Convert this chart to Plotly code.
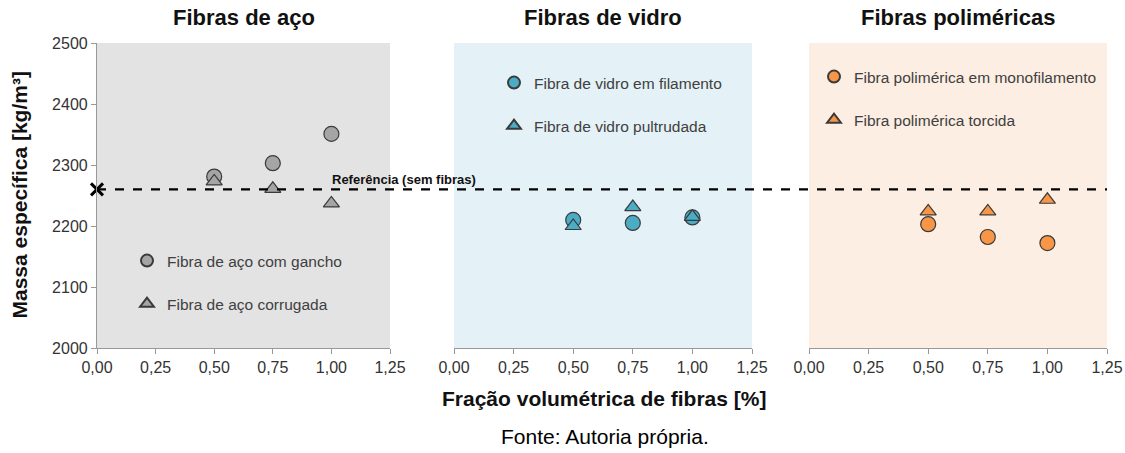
import plotly.graph_objects as go

# Frações volumétricas (%)
fracao = [0.50, 0.75, 1.00]

# Massa específica [kg/m³]
aco_gancho = [2281, 2303, 2351]
aco_corrugada = [2273, 2261, 2237]
vidro_filamento = [2210, 2205, 2214]
vidro_pultrudada = [2200, 2231, 2215]
poli_monofilamento = [2203, 2182, 2172]
poli_torcida = [2224, 2224, 2243]

referencia = 2260
ref_fracao = 0.0

titulos = ["Fibras de aço", "Fibras de vidro", "Fibras poliméricas"]
nomes = [
    ("Fibra de aço com gancho", "Fibra de aço corrugada"),
    ("Fibra de vidro em filamento", "Fibra de vidro pultrudada"),
    ("Fibra polimérica em monofilamento", "Fibra polimérica torcida"),
]
series = [
    (aco_gancho, aco_corrugada),
    (vidro_filamento, vidro_pultrudada),
    (poli_monofilamento, poli_torcida),
]
x_ticks = [0, 0.25, 0.5, 0.75, 1.0, 1.25]
y_ticks = [2000, 2100, 2200, 2300, 2400, 2500]

cores = ["#a5a5a5", "#4bacc6", "#f79646"]
fundos = ["#e3e3e3", "#e4f1f6", "#fdeee3"]
contorno = "#3a3a3a"
FONT = "Arial, Liberation Sans, sans-serif"

W, H = 1125, 453
T, B = 43, 105
PH = H - T - B
dominios = [(97 / W, 390 / W), (454 / W, 752 / W), (809 / W, 1107 / W)]

fig = go.Figure()

# posição das legendas (px da tela: x esquerdo, y topo)
leg_pos = [(127, 244), (494, 66), (814, 60)]

for i in range(3):
    xa = "x" if i == 0 else f"x{i+1}"
    ya = "y" if i == 0 else f"y{i+1}"
    leg = "legend" if i == 0 else f"legend{i+1}"
    circ, tri = series[i]
    n_circ, n_tri = nomes[i]
    fig.add_trace(go.Scatter(
        x=fracao, y=circ, mode="markers", name=n_circ,
        xaxis=xa, yaxis=ya, legend=leg, legendgroup=f"c{i}",
        marker=dict(symbol="circle", size=15, color=cores[i],
                    line=dict(color=contorno, width=1.2)),
        cliponaxis=False,
    ))
    fig.add_trace(go.Scatter(
        x=fracao, y=tri, mode="markers", name=n_tri,
        xaxis=xa, yaxis=ya, legend=leg, legendgroup=f"t{i}",
        marker=dict(symbol="triangle-up", size=14, color=cores[i],
                    line=dict(color=contorno, width=1.2)),
        cliponaxis=False,
    ))

    # fundo do painel
    fig.add_shape(type="rect", xref=f"{xa} domain", yref=f"{ya} domain",
                  x0=0, x1=1, y0=0, y1=1, fillcolor=fundos[i],
                  line=dict(width=0), layer="below")

    # título do painel
    fig.add_annotation(text=f"<b>{titulos[i]}</b>", xref=f"{xa} domain", x=0.5,
                       yref="paper", y=(H - B - 18) / PH,
                       yanchor="middle", showarrow=False,
                       font=dict(size=22, color="#111111", family=FONT))

    lx, ly = leg_pos[i]
    fig.update_layout({leg: dict(
        x=lx / W, y=(H - B - ly) / PH, xanchor="left", yanchor="top",
        bgcolor="rgba(0,0,0,0)", borderwidth=0,
        font=dict(size=15.5, color="#404040", family=FONT),
        itemsizing="constant", itemwidth=30,
        traceorder="grouped", tracegroupgap=20,
    )})

    fig.update_layout({
        f"xaxis{'' if i == 0 else i+1}": dict(
            domain=list(dominios[i]), range=[0, 1.25], anchor=ya,
            tickvals=x_ticks, tickformat=".2f",
            showline=True, linecolor="#999999", linewidth=1.2,
            ticks="outside", ticklen=5, tickcolor="#999999",
            showgrid=False, zeroline=False, automargin=False,
            tickfont=dict(size=16, color="#333333", family=FONT),
        ),
        f"yaxis{'' if i == 0 else i+1}": dict(
            domain=[0, 1], range=[2000, 2500], anchor=xa,
            tickvals=y_ticks,
            showline=(i == 0), linecolor="#999999", linewidth=1.2,
            ticks="outside" if i == 0 else "", ticklen=5, tickcolor="#999999",
            showticklabels=(i == 0),
            showgrid=False, zeroline=False, automargin=False,
            tickfont=dict(size=16, color="#333333", family=FONT),
        ),
    })

# linha de referência (sem fibras)
fig.add_shape(type="line", xref="paper", yref="y",
              x0=dominios[0][0], x1=dominios[2][1], y0=referencia, y1=referencia,
              line=dict(color="black", width=2.2, dash="dash"))
fig.add_trace(go.Scatter(
    x=[ref_fracao], y=[referencia], mode="markers", showlegend=False,
    marker=dict(symbol="x-thin", size=12, line=dict(color="black", width=3)),
    cliponaxis=False,
))
fig.add_annotation(text="<b>Referência (sem fibras)</b>", xref="paper", x=404 / W,
                   yref="y", y=referencia, yshift=10, showarrow=False,
                   font=dict(size=13, color="#111111", family=FONT))

# rótulos dos eixos e fonte
fig.add_annotation(text="<b>Fração volumétrica de fibras [%]</b>", xref="paper",
                   x=604 / W, yref="paper", y=(H - B - 398) / PH,
                   yanchor="middle", showarrow=False,
                   font=dict(size=21, color="#111111", family=FONT))
fig.add_annotation(text="<b>Massa específica [kg/m³]</b>", xref="paper",
                   x=19 / W, yref="paper", y=0.5, textangle=-90,
                   xanchor="center", yanchor="middle", showarrow=False,
                   font=dict(size=21, color="#111111", family=FONT))
fig.add_annotation(text="Fonte: Autoria própria.", xref="paper", x=605 / W,
                   yref="paper", y=(H - B - 436) / PH,
                   yanchor="middle", showarrow=False,
                   font=dict(size=21, color="#000000", family=FONT))

fig.update_layout(
    width=W, height=H,
    margin=dict(l=0, r=0, t=T, b=B),
    paper_bgcolor="white", plot_bgcolor="rgba(0,0,0,0)",
    separators=",.",
    font=dict(family=FONT),
    showlegend=True,
)

fig.write_html("out.html", config={"displayModeBar": False},
               post_script="document.body.style.margin='0';")
